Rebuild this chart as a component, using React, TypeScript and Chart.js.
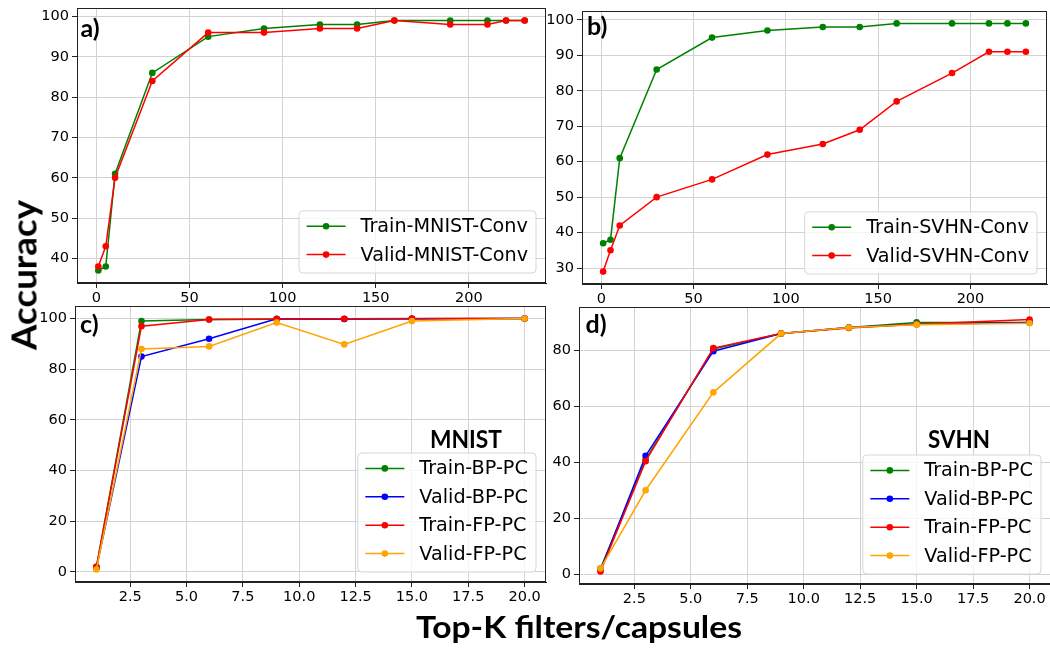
import React, { useEffect, useRef } from "react";
import { Chart, registerables } from "chart.js";

Chart.register(...registerables);

// ---- data -------------------------------------------------------------
const convK = [1, 5, 10, 30, 60, 90, 120, 140, 160, 190, 210, 220, 230];
const trainMnistConv = [37, 38, 61, 86, 95, 97, 98, 98, 99, 99, 99, 99, 99];
const validMnistConv = [38, 43, 60, 84, 96, 96, 97, 97, 99, 98, 98, 99, 99];
const trainSvhnConv = [37, 38, 61, 86, 95, 97, 98, 98, 99, 99, 99, 99, 99];
const validSvhnConv = [29, 35, 42, 50, 55, 62, 65, 69, 77, 85, 91, 91, 91];

const pcK = [1, 3, 6, 9, 12, 15, 20];
const mnistTrainBP = [2, 99, 99.6, 99.7, 99.8, 99.9, 100];
const mnistValidBP = [1.5, 85, 92, 99.9, 99.8, 99.9, 100];
const mnistTrainFP = [2, 97, 99.6, 99.8, 99.9, 100, 100];
const mnistValidFP = [1, 88, 89, 98.4, 89.8, 99, 100];
const svhnTrainBP = [2, 41, 80.5, 86, 88.2, 90, 90];
const svhnValidBP = [1.5, 42.3, 79.7, 86, 88.2, 89.3, 90];
const svhnTrainFP = [1, 40.4, 80.8, 86, 88, 89.3, 91];
const svhnValidFP = [2, 30, 65, 86, 88.2, 89.2, 89.7];

const convXTicks = [0, 50, 100, 150, 200];
const pcXTicks = [2.5, 5, 7.5, 10, 12.5, 15, 17.5, 20];
const mnistConvYTicks = [40, 50, 60, 70, 80, 90, 100];
const svhnConvYTicks = [30, 40, 50, 60, 70, 80, 90, 100];
const mnistPcYTicks = [0, 20, 40, 60, 80, 100];
const svhnPcYTicks = [0, 20, 40, 60, 80];

const GREEN = "#008000";
const RED = "#ff0000";
const BLUE = "#0000ff";
const ORANGE = "#ffa500";

// ---- layout constants ---------------------------------------------------
const YW = 60; // reserved width for the y axis
const PT = 14; // top padding above the plot area
const PR = 30; // right padding after the plot area
const XH = 40; // reserved height for the x axis

const TICK_FONT = { family: "'DejaVu Sans', sans-serif", size: 14.5 };
const LEGEND_FONT = "19.2px 'DejaVu Sans', sans-serif";
const TITLE_FAMILY = "Lato, 'Open Sans', sans-serif";

type Series = { label: string; color: string; x: number[]; y: number[] };
type Area = { l: number; r: number; t: number; b: number };

// matplotlib-style autoscale: data range plus 5% on each side
function autoRange(values: number[]) {
  const lo = Math.min(...values);
  const hi = Math.max(...values);
  const m = (hi - lo) * 0.05;
  return { min: lo - m, max: hi + m };
}

// frame around the plot area and a boxed legend in its lower-right corner
const framePlugin = {
  id: "frameAndLegend",
  afterDatasetsDraw(chart: any) {
    const { ctx, chartArea } = chart;
    ctx.save();
    ctx.strokeStyle = "#222";
    ctx.lineWidth = 1;
    ctx.strokeRect(
      Math.round(chartArea.left) + 0.5,
      Math.round(chartArea.top) + 0.5,
      Math.round(chartArea.right - chartArea.left) - 1,
      Math.round(chartArea.bottom - chartArea.top) - 1
    );

    const sets = chart.data.datasets as any[];
    ctx.font = LEGEND_FONT;
    const textW = Math.max(...sets.map((d) => ctx.measureText(d.label).width));
    const padL = 7.5, lineLen = 39, gap = 15, padR = 8;
    const topPad = 15.4, botPad = 18.4, row = 28.4, inset = 10;
    const w = padL + lineLen + gap + textW + padR;
    const h = topPad + (sets.length - 1) * row + botPad;
    const x0 = chartArea.right - inset - w;
    const y0 = chartArea.bottom - inset - h;

    ctx.beginPath();
    ctx.roundRect(x0, y0, w, h, 4);
    ctx.fillStyle = "rgba(255,255,255,0.8)";
    ctx.fill();
    ctx.strokeStyle = "#d6d6d6";
    ctx.lineWidth = 1;
    ctx.stroke();

    sets.forEach((d, i) => {
      const cy = y0 + topPad + i * row;
      const lx = x0 + padL;
      ctx.strokeStyle = d.borderColor;
      ctx.lineWidth = 1.5;
      ctx.beginPath();
      ctx.moveTo(lx, cy);
      ctx.lineTo(lx + lineLen, cy);
      ctx.stroke();
      ctx.fillStyle = d.borderColor;
      ctx.beginPath();
      ctx.arc(lx + lineLen / 2, cy, 3.3, 0, Math.PI * 2);
      ctx.fill();
      ctx.fillStyle = "#000";
      ctx.textBaseline = "middle";
      ctx.textAlign = "left";
      ctx.fillText(d.label, lx + lineLen + gap, cy + 1);
    });
    ctx.restore();
  },
};

function Panel(props: {
  area: Area;
  series: Series[];
  xTicks: number[];
  yTicks: number[];
  xDecimals: number;
}) {
  const { area, series, xTicks, yTicks, xDecimals } = props;
  const ref = useRef<HTMLCanvasElement>(null);
  const width = area.r - area.l + YW + PR;
  const height = area.b - area.t + PT + XH;

  useEffect(() => {
    const allX = series.flatMap((s) => s.x);
    const allY = series.flatMap((s) => s.y);
    const xr = autoRange(allX);
    const yr = autoRange(allY);
    const gridCommon = {
      color: "#d2d2d2",
      lineWidth: 1,
      tickColor: "#222",
      tickLength: 5,
    };
    const chart = new Chart(ref.current!, {
      type: "line",
      data: {
        datasets: series.map((s, i) => ({
          label: s.label,
          data: s.x.map((x, j) => ({ x, y: s.y[j] })),
          borderColor: s.color,
          backgroundColor: s.color,
          pointBackgroundColor: s.color,
          borderWidth: 1.5,
          pointRadius: 3.3,
          pointBorderWidth: 0,
          tension: 0,
          order: -i,
        })),
      },
      options: {
        responsive: false,
        animation: false,
        devicePixelRatio: 1,
        layout: { padding: { top: PT, right: PR, left: 0, bottom: 0 } },
        plugins: { legend: { display: false }, tooltip: { enabled: false } },
        scales: {
          x: {
            type: "linear",
            min: xr.min,
            max: xr.max,
            afterBuildTicks: (s: any) => {
              s.ticks = xTicks.map((v) => ({ value: v }));
            },
            afterFit: (s: any) => {
              s.height = XH;
            },
            ticks: {
              font: TICK_FONT,
              color: "#000",
              padding: 2,
              maxRotation: 0,
              autoSkip: false,
              callback: (v: any) => Number(v).toFixed(xDecimals),
            },
            grid: gridCommon,
            border: { color: "#222", width: 1 },
          },
          y: {
            type: "linear",
            min: yr.min,
            max: yr.max,
            afterBuildTicks: (s: any) => {
              s.ticks = yTicks.map((v) => ({ value: v }));
            },
            afterFit: (s: any) => {
              s.width = YW;
            },
            ticks: {
              font: TICK_FONT,
              color: "#000",
              padding: 3,
              autoSkip: false,
              callback: (v: any) => String(v),
            },
            grid: gridCommon,
            border: { color: "#222", width: 1 },
          },
        },
      },
      plugins: [framePlugin],
    } as any);
    return () => chart.destroy();
  }, []);

  return (
    <canvas
      ref={ref}
      width={width}
      height={height}
      style={{
        position: "absolute",
        left: area.l - YW,
        top: area.t - PT,
        width,
        height,
      }}
    />
  );
}

const measureCtx =
  typeof document !== "undefined" ? document.createElement("canvas").getContext("2d") : null;

function Label(props: {
  text: string;
  x: number;
  y: number;
  size: number;
  width?: number;
  anchor?: "left" | "center";
  rotate?: boolean;
}) {
  const { text, x, y, size, width, anchor = "center", rotate = false } = props;
  let sx = 1;
  if (width && measureCtx) {
    measureCtx.font = `700 ${size}px ${TITLE_FAMILY}`;
    sx = width / measureCtx.measureText(text).width;
  }
  const shift = anchor === "center" ? "translate(-50%,-50%)" : "translate(0,-50%)";
  const origin = anchor === "center" ? "50% 50%" : "0% 50%";
  return (
    <div
      style={{
        position: "absolute",
        left: x,
        top: y,
        fontFamily: TITLE_FAMILY,
        fontWeight: 700,
        fontSize: size,
        lineHeight: 1,
        whiteSpace: "nowrap",
        color: "#000",
        transformOrigin: origin,
        transform: `${shift} ${rotate ? "rotate(-90deg)" : ""} scaleX(${sx})`,
      }}
    >
      {text}
    </div>
  );
}

export default function App() {
  const panelA: Series[] = [
    { label: "Train-MNIST-Conv", color: GREEN, x: convK, y: trainMnistConv },
    { label: "Valid-MNIST-Conv", color: RED, x: convK, y: validMnistConv },
  ];
  const panelB: Series[] = [
    { label: "Train-SVHN-Conv", color: GREEN, x: convK, y: trainSvhnConv },
    { label: "Valid-SVHN-Conv", color: RED, x: convK, y: validSvhnConv },
  ];
  const panelC: Series[] = [
    { label: "Train-BP-PC", color: GREEN, x: pcK, y: mnistTrainBP },
    { label: "Valid-BP-PC", color: BLUE, x: pcK, y: mnistValidBP },
    { label: "Train-FP-PC", color: RED, x: pcK, y: mnistTrainFP },
    { label: "Valid-FP-PC", color: ORANGE, x: pcK, y: mnistValidFP },
  ];
  const panelD: Series[] = [
    { label: "Train-BP-PC", color: GREEN, x: pcK, y: svhnTrainBP },
    { label: "Valid-BP-PC", color: BLUE, x: pcK, y: svhnValidBP },
    { label: "Train-FP-PC", color: RED, x: pcK, y: svhnTrainFP },
    { label: "Valid-FP-PC", color: ORANGE, x: pcK, y: svhnValidFP },
  ];

  return (
    <div
      style={{
        position: "absolute",
        left: 0,
        top: 0,
        width: 1050,
        height: 649,
        overflow: "hidden",
        background: "#fff",
      }}
    >
      <Panel area={{ l: 77, r: 546, t: 8, b: 283 }} series={panelA} xTicks={convXTicks} yTicks={mnistConvYTicks} xDecimals={0} />
      <Panel area={{ l: 582, r: 1047, t: 11, b: 284 }} series={panelB} xTicks={convXTicks} yTicks={svhnConvYTicks} xDecimals={0} />
      <Panel area={{ l: 75, r: 546, t: 306, b: 582 }} series={panelC} xTicks={pcXTicks} yTicks={mnistPcYTicks} xDecimals={1} />
      <Panel area={{ l: 579, r: 1051, t: 307, b: 584 }} series={panelD} xTicks={pcXTicks} yTicks={svhnPcYTicks} xDecimals={1} />

      <Label text="a)" x={80.5} y={27} size={25} anchor="left" />
      <Label text="b)" x={587} y={25} size={25} anchor="left" />
      <Label text="c)" x={80} y={323} size={25} anchor="left" />
      <Label text="d)" x={585.5} y={323} size={25} anchor="left" />

      <Label text="MNIST" x={466} y={438} size={25} width={72} />
      <Label text="SVHN" x={958.5} y={438} size={25} width={62} />

      <Label text="Accuracy" x={22.5} y={275} size={35} width={150} rotate />
      <Label text="Top-K filters/capsules" x={579} y={626} size={31} width={326} />
    </div>
  );
}
